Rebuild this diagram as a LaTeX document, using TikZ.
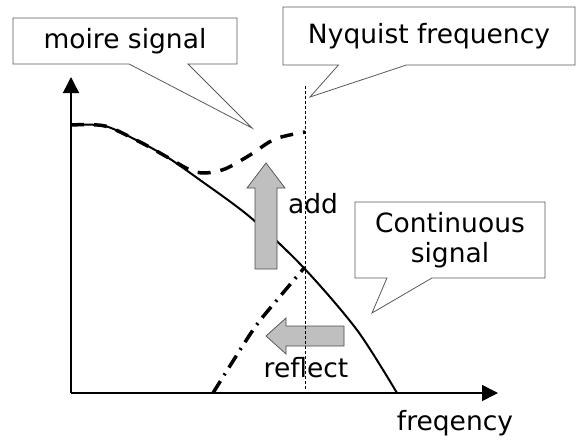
\documentclass[tikz,border=0pt]{standalone}
\usepackage{fontspec}
\setmainfont{DejaVu Sans}
\usetikzlibrary{arrows.meta,shapes.callouts}

\begin{document}
\begin{tikzpicture}[x=1pt,y=-1pt,
	callbox/.style={rectangle callout, draw=gray!70!black, line width=0.8pt, fill=white, inner sep=0pt, align=center, font=\fontsize{26.5}{30}\selectfont},
	lbl/.style={font=\fontsize{26.5}{30}\selectfont, inner sep=0pt},
	blockarrow/.style={draw=gray!60!black, line width=0.7pt, fill=gray!50},
	axis/.style={line width=1.5pt, -{Triangle[length=16pt,width=16pt]}}]
	\useasboundingbox (0,0) rectangle (580,442);
	% axes
	\coordinate (o) at (71,393);
	\coordinate (ytip) at (71,77);
	\coordinate (xtip) at (498,393);
	\draw [axis] (o)--(ytip);
	\draw [axis] (o)--(xtip);
	\node [lbl, anchor=base] (freq) at (455,430) {freqency};
	% continuous signal
	\draw [line width=2pt] plot[smooth] coordinates {(71,125) (105,126) (140,142) (167,157) (200,180) (250,217) (303,267) (357,330) (397,393)};
	% moire signal
	\draw [line width=3.5pt, dash pattern=on 13pt off 10pt] plot[smooth] coordinates {(71,125) (105,126) (140,142) (167,157) (190,170) (205,173) (225,169) (250,155) (275,139) (305,132)};
	% reflected part
	\draw [line width=3.5pt, dash pattern=on 14pt off 7pt on 2pt off 7pt] plot[smooth] coordinates {(213,393) (253,330) (277,300) (305,267)};
	% add / reflect arrows
	\draw [blockarrow] (255,269)--(255,188)--(247,188)--(266,163)--(285,188)--(277,188)--(277,269)--cycle;
	\draw [blockarrow] (344,326)--(286,326)--(286,318)--(266,336)--(286,354)--(286,346)--(344,346)--cycle;
	\node [lbl, anchor=base] (add) at (313,213) {add};
	\node [lbl, anchor=base] (reflect) at (306,377) {reflect};
	% Nyquist frequency
	\draw [line width=0.8pt, dash pattern=on 3pt off 2pt] (305,86)--(305,390);
	% callouts
	\coordinate (moiretip) at (252,128);
	\coordinate (nyqtip) at (310,97);
	\coordinate (conttip) at (372,313);
	\node [callbox, minimum width=224pt, minimum height=46pt, callout pointer width=59pt, callout absolute pointer=(moiretip)] (moire) at (125,41) {moire signal};
	\node [callbox, minimum width=292pt, minimum height=58pt, callout pointer width=68pt, callout absolute pointer=(nyqtip)] (nyquist) at (429,36) {Nyquist frequency};
	\node [callbox, minimum width=190pt, minimum height=76pt, callout pointer width=45pt, callout absolute pointer=(conttip)] (cont) at (450,240) {Continuous\\signal};
\end{tikzpicture}
\end{document}
